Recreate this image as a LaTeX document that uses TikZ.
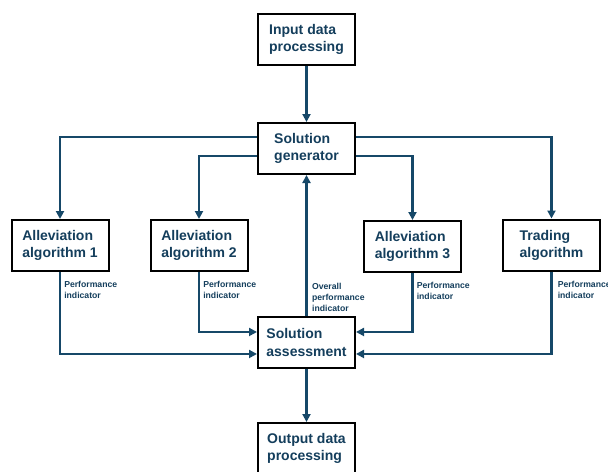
\documentclass[tikz,border=0pt]{standalone}
\usepackage{fontspec}
\setmainfont{Liberation Sans}
\usepackage{tikz}
\usetikzlibrary{arrows.meta,positioning}
\definecolor{flowline}{RGB}{22, 72,104}
\definecolor{flowtext}{RGB}{20, 62, 92}
\tikzset{
  procbox/.style={draw=black,line width=1.5pt,fill=white,
              minimum width=72.75pt,minimum height=38.25pt,inner sep=0pt,
              font=\bfseries\fontsize{10.5}{12.8}\selectfont,
              text=flowtext,align=left},
  arr/.style={-{Triangle[length=6pt,width=6pt]},line width=2pt,color=flowline},
  plbl/.style={font=\bfseries\fontsize{6.5}{8.2}\selectfont,text=flowtext,
              align=left,inner sep=0pt},
}
\begin{document}
\begin{tikzpicture}[x=0.75pt,y=-0.75pt]
  \useasboundingbox (0,0) rectangle (608,472);
  \node[procbox] (IN)  at (306.5, 39)   {Input data\\processing};
  \node[procbox] (SG)  at (306.5,148.5) {Solution\\generator};
  \node[procbox] (A1)  at (60,  245.5)  {Alleviation\\algorithm 1};
  \node[procbox] (A2)  at (199, 245.5)  {Alleviation\\algorithm 2};
  \node[procbox] (A3)  at (412.5,246.5) {Alleviation\\algorithm 3};
  \node[procbox] (TR)  at (551.5,245)   {Trading\\algorithm};
  \node[procbox] (SA)  at (306.5,342.5) {Solution\\assessment};
  \node[procbox] (OUT) at (306.5,448.5) {Output data\\processing};

  % performance indicators
  \node[plbl,anchor=north west] (PA1) at ([xshift=3pt,yshift=-7pt]A1.south) {Performance\\indicator};
  \node[plbl,anchor=north west] (PA2) at ([xshift=3pt,yshift=-7pt]A2.south) {Performance\\indicator};
  \node[plbl,anchor=north west] (PA3) at ([xshift=3pt,yshift=-7pt]A3.south) {Performance\\indicator};
  \node[plbl,anchor=north west] (PTR) at ([xshift=4.5pt,yshift=-7pt]TR.south) {Performance\\indicator};
  \node[plbl,anchor=south west] (POV) at ([xshift=4pt,yshift=3pt]SA.north) {Overall\\performance\\indicator};

  \draw[arr](IN) -- (SG);
  \draw[arr]([yshift=8.6pt]SG.west) -| (A1.north);
  \draw[arr]([yshift=-5.6pt]SG.west) -| (A2.north);
  \draw[arr]([yshift=8.6pt]SG.east) -| (TR.north);
  \draw[arr]([yshift=-5.6pt]SG.east) -| (A3.north);
  \draw[arr](A1.south) |- ([yshift=-8.6pt]SA.west);
  \draw[arr](A2.south) |- ([yshift=7.9pt]SA.west);
  \draw[arr](A3.south) |- ([yshift=7.9pt]SA.east);
  \draw[arr](TR.south) |- ([yshift=-8.6pt]SA.east);
  \draw[arr](SA) -- (SG);
  \draw[arr](SA) -- (OUT);
\end{tikzpicture}
\end{document}
